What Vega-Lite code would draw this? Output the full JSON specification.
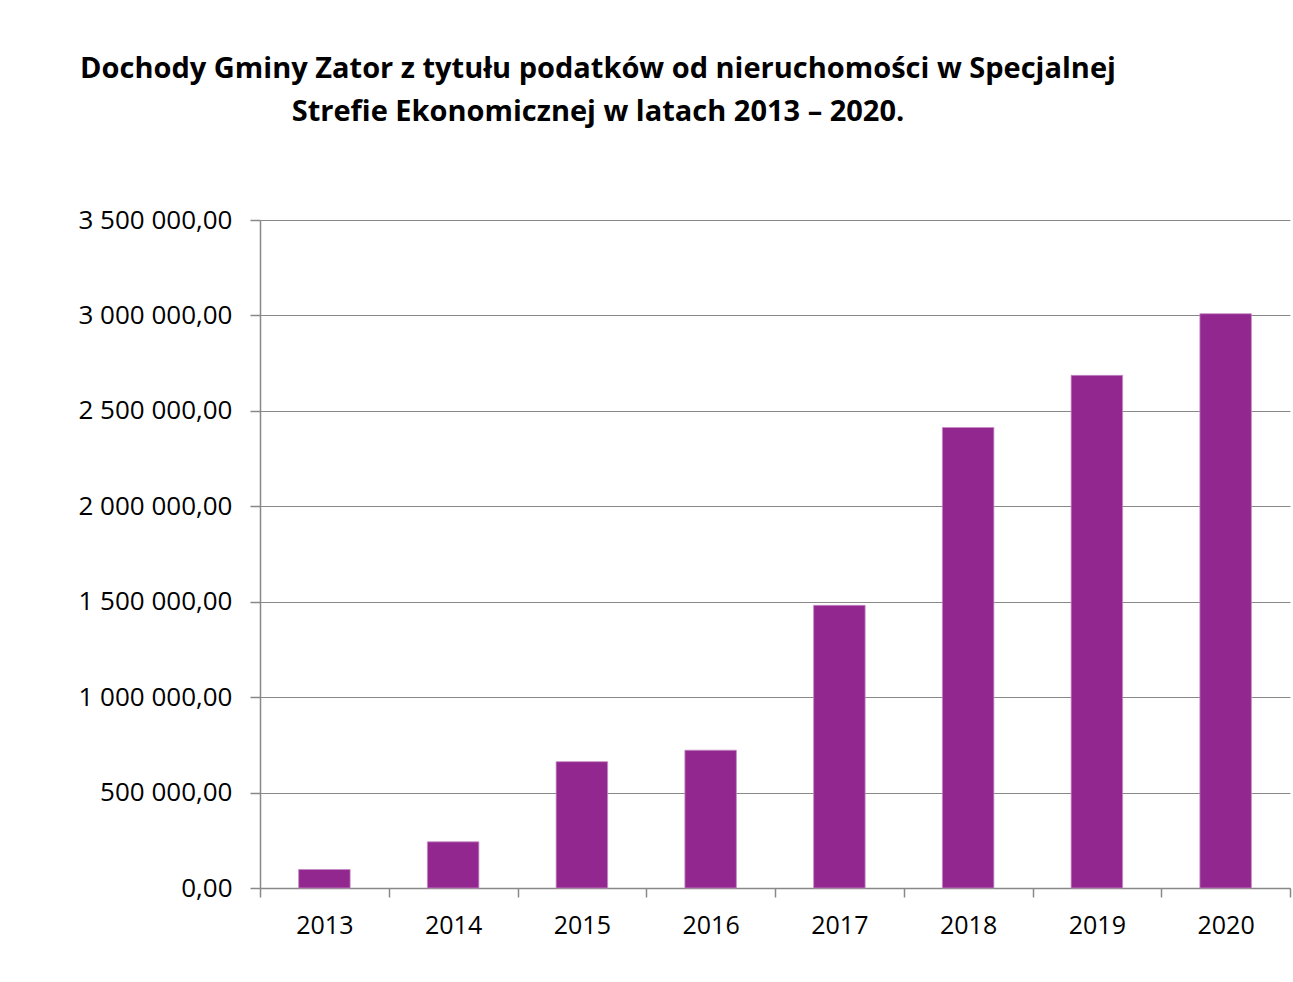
{
  "$schema": "https://vega.github.io/schema/vega-lite/v6.json",
  "width": 1030,
  "height": 668,
  "autosize": "none",
  "padding": {"left": 260, "top": 220, "right": 3, "bottom": 94},
  "background": "white",
  "config": {
    "locale": {"number": {"decimal": ",", "thousands": " ", "grouping": [3], "currency": ["", ""]}},
    "view": {"stroke": null},
    "font": "Open Sans"
  },
  "title": {
    "text": ["Dochody Gminy Zator z tytułu podatków od nieruchomości w Specjalnej", "Strefie Ekonomicznej w latach 2013 – 2020."],
    "anchor": "middle",
    "frame": "group",
    "dx": -177,
    "offset": 80,
    "font": "Open Sans",
    "fontSize": 29,
    "fontWeight": "bold",
    "lineHeight": 43,
    "color": "#000000"
  },
  "data": {
    "values": [
      {"rok": "2013", "dochody": 97000},
      {"rok": "2014", "dochody": 242000},
      {"rok": "2015", "dochody": 662000},
      {"rok": "2016", "dochody": 722000},
      {"rok": "2017", "dochody": 1481000},
      {"rok": "2018", "dochody": 2413000},
      {"rok": "2019", "dochody": 2686000},
      {"rok": "2020", "dochody": 3009000}
    ]
  },
  "mark": {"type": "bar", "color": "#92278F", "width": {"band": 0.4}, "stroke": "#c58bc3", "strokeWidth": 0.8},
  "encoding": {
    "x": {
      "field": "rok",
      "type": "ordinal",
      "scale": {"paddingInner": 0, "paddingOuter": 0},
      "axis": {
        "title": null,
        "labelAngle": 0,
        "tickBand": "extent",
        "domainColor": "#888888",
        "domainWidth": 1.5,
        "tickColor": "#888888",
        "tickWidth": 1.5,
        "tickSize": 9,
        "labelFont": "Open Sans",
        "labelFontSize": 25,
        "labelColor": "#000000",
        "labelPadding": 16,
        "grid": false
      }
    },
    "y": {
      "field": "dochody",
      "type": "quantitative",
      "scale": {"domain": [0, 3500000], "nice": false},
      "axis": {
        "title": null,
        "values": [0, 500000, 1000000, 1500000, 2000000, 2500000, 3000000, 3500000],
        "format": ",.2f",
        "domainColor": "#888888",
        "domainWidth": 1.5,
        "tickColor": "#888888",
        "tickWidth": 1.5,
        "tickSize": 10,
        "gridColor": "#888888",
        "gridWidth": 1.2,
        "labelFont": "Open Sans",
        "labelFontSize": 26,
        "labelColor": "#000000",
        "labelPadding": 18
      }
    }
  }
}
